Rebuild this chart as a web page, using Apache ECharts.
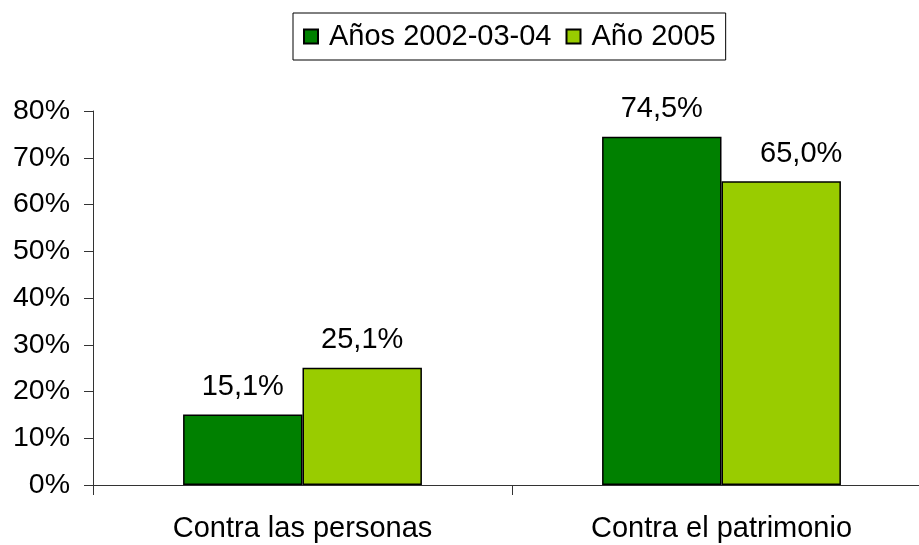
<!DOCTYPE html>
<html>
<head>
<meta charset="utf-8">
<script src="https://cdn.jsdelivr.net/npm/echarts@6/dist/echarts.min.js"></script>
<style>
  html, body { margin: 0; padding: 0; background: #fff; overflow: hidden; }
  /* el área del gráfico sigue un poco más allá del borde derecho, como en el original */
  #chart { width: 931px; height: 545px; }
</style>
</head>
<body>
<div id="chart"></div>
<script>
// datos del gráfico
var categorias = ['Contra las personas', 'Contra el patrimonio'];
var serieNombres = ['Años 2002-03-04', 'Año 2005'];
var valores2002 = [15.1, 74.5];
var valores2005 = [25.1, 65.0];

var fuente = "'Liberation Sans', Arial, sans-serif";

function etiqueta(p) {
    return p.value.toFixed(1).replace('.', ',') + '%';
}

var chart = echarts.init(document.getElementById('chart'));

var option = {
    animation: false,
    backgroundColor: '#fff',
    textStyle: { fontFamily: fuente },
    legend: {
        left: 293,
        top: 13,
        padding: [9, 10, 9, 10],
        borderColor: '#000',
        borderWidth: 1,
        icon: 'rect',
        itemWidth: 14,
        itemHeight: 14,
        itemGap: 14,
        textStyle: { fontSize: 29, color: '#000', fontFamily: fuente, padding: [0, 0, 0, 6] },
        data: serieNombres
    },
    grid: {
        left: 93,
        right: 0,
        top: 111,
        bottom: 60,
        containLabel: false
    },
    xAxis: {
        type: 'category',
        data: categorias,
        axisLine: { lineStyle: { color: '#333', width: 1 } },
        axisTick: { show: true, length: 10, lineStyle: { color: '#333' } },
        axisLabel: { fontSize: 29, color: '#000', margin: 29, fontFamily: fuente }
    },
    yAxis: {
        type: 'value',
        min: 0,
        max: 80,
        interval: 10,
        axisLine: { show: true, lineStyle: { color: '#333', width: 1 } },
        axisTick: { show: true, length: 9, lineStyle: { color: '#333' } },
        splitLine: { show: false },
        axisLabel: {
            fontSize: 28.5, color: '#000', margin: 23, fontFamily: fuente,
            formatter: function (v) { return v + '%'; }
        }
    },
    series: [
        {
            name: serieNombres[0],
            type: 'bar',
            data: valores2002,
            barGap: '0%',
            barCategoryGap: '43%',
            itemStyle: { color: '#008000', borderColor: '#000', borderWidth: 1.5 },
            label: {
                show: true, position: 'top', distance: 13,
                fontSize: 29, color: '#000', fontFamily: fuente,
                formatter: etiqueta
            }
        },
        {
            name: serieNombres[1],
            type: 'bar',
            data: [valores2005[0], { value: valores2005[1], label: { offset: [20, 0] } }],
            itemStyle: { color: '#99CC00', borderColor: '#000', borderWidth: 1.5 },
            label: {
                show: true, position: 'top', distance: 13,
                fontSize: 29, color: '#000', fontFamily: fuente,
                formatter: etiqueta
            }
        }
    ]
};

chart.setOption(option);
</script>
</body>
</html>
